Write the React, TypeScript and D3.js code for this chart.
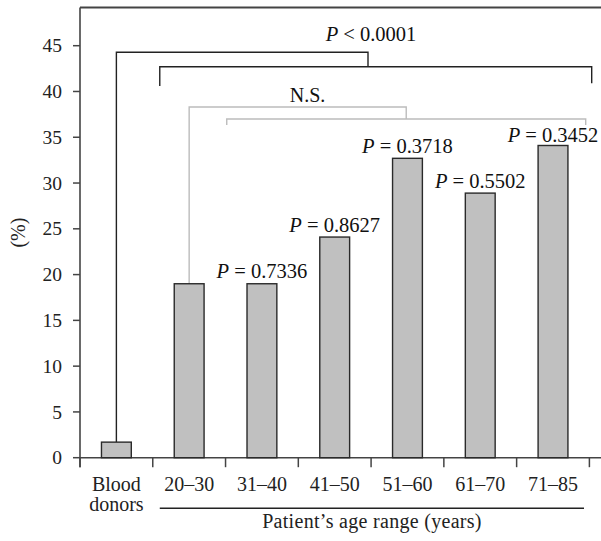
import React from "react";
import * as d3 from "d3";

const categories = ["Blood donors", "20–30", "31–40", "41–50", "51–60", "61–70", "71–85"];
const values = [1.7, 19.0, 19.0, 24.1, 32.7, 28.9, 34.1];
const pLabels = ["", "", "0.7336", "0.8627", "0.3718", "0.5502", "0.3452"];
const yTicks = [0, 5, 10, 15, 20, 25, 30, 35, 40, 45];
const yLabel = "(%)";
const xTitle = "Patient’s age range (years)";
const overallP = "< 0.0001";
const nsLabel = "N.S.";

const W = 601;
const H = 541;
const FONT = "'Liberation Serif', 'Times New Roman', serif";

export default function App() {
  const left = 80;
  const top = 7.5;
  const right = W + 2;
  const x = d3.scaleBand<string>().domain(categories).range([80, 589.4]).padding(0);
  const bw = x.bandwidth();
  const barW = bw * 0.41;
  const y = d3.scaleLinear().domain([0, 45]).range([457.7, 45.7]);
  const y0 = y(0);
  const cx = (c: string) => (x(c) as number) + bw / 2;

  const axisColor = "#444";
  const dark = "#222";
  const gray = "#bcbcbc";

  // brackets
  const bdX = cx(categories[0]);
  const patStart = (x(categories[1]) as number) + 7;
  const patEnd = (x(categories[6]) as number) + bw + 2.3;
  const blackTop = y(44.28);
  const blackLow = y(42.7);
  const blackJoin = 368;
  const gStartX = cx(categories[1]);
  const gTop = y(38.3);
  const gLow = y(37.0);
  const gLowStart = (x(categories[2]) as number) + 1.2;
  const gLowEnd = (x(categories[6]) as number) + bw - 3.7;
  const gJoin = (gLowStart + gLowEnd) / 2;

  return (
    <svg width={W} height={H} style={{ position: "absolute", left: 0, top: 0, background: "#fff" }} fontFamily={FONT}>
      {/* frame top */}
      <line x1={left} x2={right} y1={top} y2={top} stroke={axisColor} strokeWidth={1.8} />
      {/* y axis */}
      <line x1={left} x2={left} y1={top} y2={y0 + 9.5} stroke={axisColor} strokeWidth={1.6} />
      {/* x axis */}
      <line x1={left} x2={right} y1={y0} y2={y0} stroke={axisColor} strokeWidth={1.6} />
      {yTicks.map((t) => (
        <g key={t}>
          <line x1={left - 7} x2={left} y1={y(t)} y2={y(t)} stroke={axisColor} strokeWidth={1.5} />
          <text x={left - 18} y={y(t)} dy="0.34em" textAnchor="end" fontSize={19.5} fill="#222">
            {t}
          </text>
        </g>
      ))}
      {categories.map((c, i) => (
        <line key={"tk" + i} x1={x(c) as number} x2={x(c) as number} y1={y0} y2={y0 + 9.5} stroke={axisColor} strokeWidth={1.5} />
      ))}
      <line x1={589.4} x2={589.4} y1={y0} y2={y0 + 9.5} stroke={axisColor} strokeWidth={1.5} />

      {/* brackets */}
      <polyline
        points={`${bdX},${y(values[0])} ${bdX},${blackTop} ${blackJoin},${blackTop} ${blackJoin},${blackLow}`}
        fill="none" stroke={dark} strokeWidth={1.4} />
      <polyline
        points={`${patStart},${y(40.6)} ${patStart},${blackLow} ${patEnd},${blackLow} ${patEnd},${y(40.9)}`}
        fill="none" stroke={dark} strokeWidth={1.4} />
      <polyline
        points={`${gStartX},${y(values[1])} ${gStartX},${gTop} ${gJoin},${gTop} ${gJoin},${gLow}`}
        fill="none" stroke={gray} strokeWidth={1.4} />
      <polyline
        points={`${gLowStart},${y(36.35)} ${gLowStart},${gLow} ${gLowEnd},${gLow} ${gLowEnd},${y(36.35)}`}
        fill="none" stroke={gray} strokeWidth={1.4} />

      {/* bars */}
      {categories.map((c, i) => (
        <rect key={c} x={cx(c) - barW / 2} y={y(values[i])} width={barW} height={y0 - y(values[i])}
          fill="#c0c0c0" stroke="#2a2a2a" strokeWidth={1.4} />
      ))}

      {/* p labels */}
      {categories.map((c, i) =>
        pLabels[i] ? (
          <text key={"p" + i} x={cx(c)} y={y(values[i]) - (i === 6 ? 3.5 : 5.5)} textAnchor="middle" fontSize={20.5} fill="#111">
            <tspan fontStyle="italic">P</tspan>
            {" = " + pLabels[i]}
          </text>
        ) : null
      )}
      <text x={371} y={40.5} textAnchor="middle" fontSize={20.5} fill="#111">
        <tspan fontStyle="italic">P</tspan>
        {" " + overallP}
      </text>
      <text x={307.5} y={101.5} textAnchor="middle" fontSize={20} fill="#111">
        {nsLabel}
      </text>

      {/* x labels */}
      {categories.map((c, i) =>
        i === 0 ? (
          <text key={"xl" + i} x={cx(c)} y={491} textAnchor="middle" fontSize={20} fill="#222">
            <tspan x={cx(c)} dy={0}>Blood</tspan>
            <tspan x={cx(c)} dy={19.5}>donors</tspan>
          </text>
        ) : (
          <text key={"xl" + i} x={cx(c)} y={491} textAnchor="middle" fontSize={20} fill="#222">
            {c}
          </text>
        )
      )}
      <line x1={patStart} x2={(x(categories[6]) as number) + bw - 5.4} y1={508.3} y2={508.3} stroke="#222" strokeWidth={1.4} />
      <text x={372} y={527.5} textAnchor="middle" fontSize={20} letterSpacing={0.3} fill="#222">
        {xTitle}
      </text>
      <text transform={`translate(18.5,${(top + y0) / 2}) rotate(-90)`} dy="0.34em" textAnchor="middle" fontSize={20} fill="#222">
        {yLabel}
      </text>
    </svg>
  );
}
